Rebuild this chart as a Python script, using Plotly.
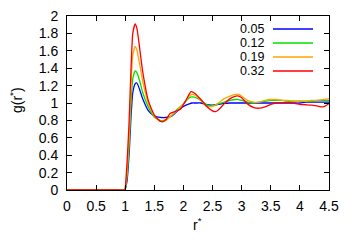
import plotly.graph_objects as go

series_names = ["0.05", "0.12", "0.19", "0.32"]
series_colors = ["#0000ff", "#00e000", "#ffa500", "#ff0000"]

r_common = [0, 0.9, 0.99, 1.0, 1.03, 1.07, 1.1, 1.13, 1.17, 1.2, 1.25, 1.3, 1.4, 1.5, 1.6, 1.7,
            1.8, 1.9, 2.0, 2.1, 2.15, 2.2, 2.3, 2.4, 2.5, 2.6, 2.7, 2.8, 2.9, 2.95, 3.0,
            3.1, 3.2, 3.3, 3.4, 3.5, 3.6, 3.7, 3.8, 3.9, 4.0, 4.1, 4.2, 4.3, 4.4, 4.5]

g_005 = [0, 0, 0, 0.01, 0.1, 0.45, 0.85, 1.12, 1.22, 1.23, 1.15, 1.05, 0.91, 0.85, 0.835, 0.835,
         0.85, 0.91, 0.96, 0.99, 1.0, 1.0, 1.0, 0.98, 0.975, 0.985, 0.995, 1.0, 1.0, 1.0, 1.0,
         1.0, 1.0, 1.0, 1.0, 1.0, 1.0, 1.0, 1.0, 1.0, 1.0, 1.01, 1.01, 1.01, 1.01, 1.01]

g_012 = [0, 0, 0, 0.01, 0.15, 0.55, 1.0, 1.28, 1.37, 1.35, 1.25, 1.12, 0.95, 0.84, 0.80, 0.81,
         0.86, 0.93, 0.99, 1.06, 1.07, 1.065, 1.03, 0.98, 0.97, 0.99, 1.01, 1.03, 1.04, 1.04, 1.03,
         1.01, 1.00, 1.01, 1.02, 1.03, 1.03, 1.03, 1.02, 1.02, 1.02, 1.02, 1.02, 1.03, 1.03, 1.03]

g_019 = [0, 0, 0, 0.01, 0.2, 0.65, 1.2, 1.55, 1.65, 1.61, 1.44, 1.25, 0.99, 0.85, 0.79, 0.80,
         0.86, 0.92, 0.99, 1.08, 1.10, 1.09, 1.03, 0.96, 0.96, 1.0, 1.05, 1.08, 1.10, 1.10, 1.08,
         1.03, 1.01, 1.01, 1.03, 1.04, 1.04, 1.03, 1.03, 1.02, 1.02, 1.02, 1.03, 1.03, 1.04, 1.05]

r_032 = [0, 0.9, 0.99, 1.0, 1.03, 1.065, 1.1, 1.13, 1.17, 1.2, 1.25, 1.3, 1.4, 1.5, 1.6, 1.65,
         1.7, 1.77, 1.85, 1.95, 2.05, 2.13, 2.2, 2.3, 2.4, 2.5, 2.55, 2.6, 2.7, 2.8, 2.9,
         2.95, 3.0, 3.1, 3.2, 3.3, 3.4, 3.5, 3.6, 3.7, 3.8, 3.9, 4.0, 4.1, 4.2, 4.3, 4.4, 4.5]
g_032 = [0, 0, 0, 0.02, 0.3, 0.76, 1.4, 1.8, 1.91, 1.86, 1.62, 1.36, 1.02, 0.86, 0.79, 0.785,
         0.81, 0.88, 0.90, 0.93, 1.04, 1.13, 1.11, 1.04, 0.96, 0.91, 0.90, 0.92, 0.99, 1.05, 1.08,
         1.08, 1.06, 0.99, 0.95, 0.94, 0.955, 0.985, 1.0, 1.005, 1.005, 0.995, 0.985, 0.98, 0.975,
         0.965, 0.955, 0.995]

x_ticks = [0, 0.5, 1, 1.5, 2, 2.5, 3, 3.5, 4, 4.5]
y_ticks = [0, 0.2, 0.4, 0.6, 0.8, 1, 1.2, 1.4, 1.6, 1.8, 2]

xs = [r_common, r_common, r_common, r_032]
ys = [g_005, g_012, g_019, g_032]

FONT = "Liberation Sans, Arial, sans-serif"
FS = 14
FS_KEY = 12.5

fig = go.Figure()
for name, col, x, y in zip(series_names, series_colors, xs, ys):
    fig.add_trace(go.Scatter(x=x, y=y, mode="lines", name=name,
                             line=dict(color=col, width=1.3, shape="spline", smoothing=0.5),
                             showlegend=False))

L, R, T, B = 67, 25, 16, 58
W, H = 354, 248
pw, ph = W - L - R, H - T - B

def px_x(px):
    return (px - L) / pw

def px_y(py):
    return (H - B - py) / ph

# gnuplot-style key: text right-aligned, line sample to the right
key_rows_py = [29, 43, 57, 71]
for i, (name, col) in enumerate(zip(series_names, series_colors)):
    yp = px_y(key_rows_py[i])
    fig.add_annotation(x=px_x(265), y=yp, xref="paper", yref="paper", text=name,
                       showarrow=False, xanchor="right", yanchor="middle",
                       borderpad=0,
                       font=dict(family=FONT, size=FS_KEY, color="black"))
    fig.add_shape(type="line", xref="paper", yref="paper",
                  x0=px_x(273), x1=px_x(313), y0=yp, y1=yp,
                  line=dict(color=col, width=1.3))

# axis titles
fig.add_annotation(x=px_x(197), y=px_y(224), xref="paper", yref="paper",
                   text="r<sup>*</sup>", showarrow=False, xanchor="center", yanchor="middle",
                   font=dict(family=FONT, size=FS, color="black"))
fig.add_annotation(x=px_x(16), y=px_y(100), xref="paper", yref="paper",
                   text="g(r<sup>*</sup>)", showarrow=False, textangle=-90,
                   xanchor="center", yanchor="middle",
                   font=dict(family=FONT, size=FS, color="black"))

axis_common = dict(showgrid=False, zeroline=False, showline=True, linecolor="black", linewidth=1,
                   mirror="ticks", ticks="inside", ticklen=5, tickcolor="black", tickwidth=1,
                   automargin=False,
                   tickfont=dict(family=FONT, size=FS, color="black"))

fig.update_xaxes(range=[0, 4.5], tickvals=x_ticks, ticktext=[f"{v:g}" for v in x_ticks],
                 ticklabelstandoff=3, **axis_common)
fig.update_yaxes(range=[0, 2], tickvals=y_ticks, ticktext=[f"{v:g}" for v in y_ticks],
                 ticklabelstandoff=5, **axis_common)

fig.update_layout(width=W, height=H, margin=dict(l=L, r=R, t=T, b=B),
                  plot_bgcolor="white", paper_bgcolor="white",
                  font=dict(family=FONT, color="black"))

fig.write_html("out.html", config={"displayModeBar": False},
               post_script="document.body.style.margin='0';document.body.style.overflow='hidden';")
